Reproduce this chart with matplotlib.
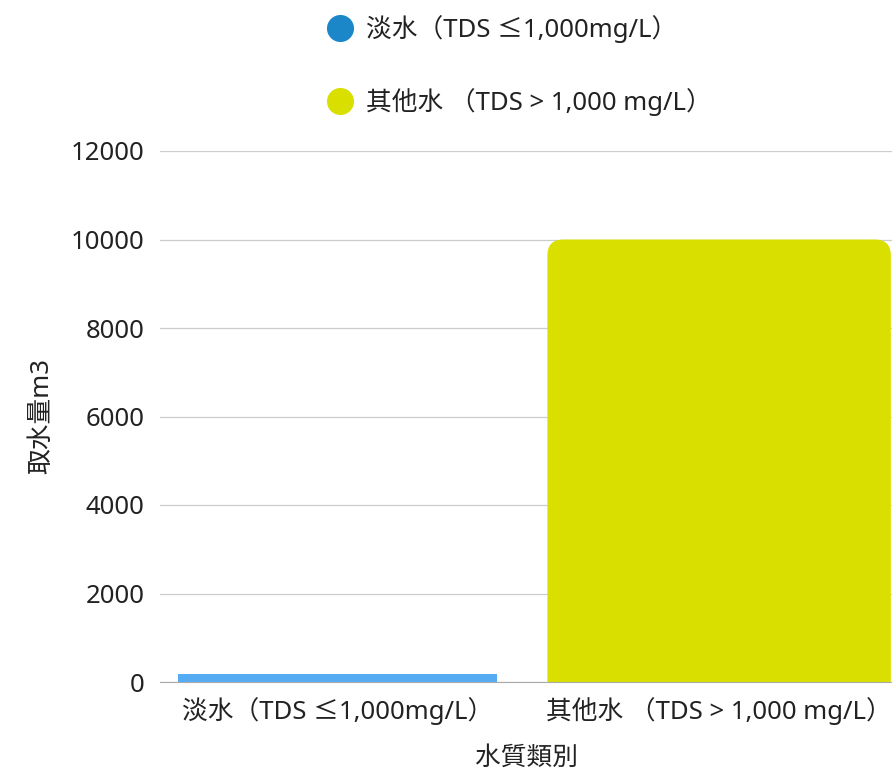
import matplotlib.pyplot as plt
from matplotlib.lines import Line2D
from matplotlib.patches import FancyBboxPatch

plt.rcParams['font.family'] = ['Noto Sans', 'Noto Sans CJK TC', 'DejaVu Sans']

categories = ["淡水（TDS ≤1,000mg/L）", "其他水 （TDS > 1,000 mg/L）"]
intake = [180, 10000]
bar_colors = ["#56acf2", "#d9e000"]
legend_colors = ["#1b87c9", "#d9e000"]
yticks = [0, 2000, 4000, 6000, 8000, 10000, 12000]

FS = 18.5
TXT = "#222222"

fig = plt.figure(figsize=(8.92, 7.72), dpi=100)
ax = fig.add_axes([160 / 892, 90 / 772, 732 / 892, 531 / 772])

x = [0, 1]
widths = [0.836, 0.90]
bars = ax.bar(x, intake, width=widths, color=bar_colors, zorder=2)

ax.set_xlim(-0.465, 1.453)
ax.set_ylim(0, 12000)

# swap the tall bar for one with rounded top corners
x_per_px = (1.453 + 0.465) / 732
y_per_px = 12000 / 531
r_px = 16
for rect, val in zip(bars, intake):
    if val / y_per_px < 3 * r_px:
        continue
    rect.set_visible(False)
    patch = FancyBboxPatch(
        (rect.get_x(), -r_px * y_per_px), rect.get_width(), val + r_px * y_per_px,
        boxstyle=f"round,pad=0,rounding_size={r_px * x_per_px}",
        mutation_aspect=y_per_px / x_per_px,
        facecolor=rect.get_facecolor(), edgecolor="none", zorder=2,
    )
    ax.add_patch(patch)

ax.set_yticks(yticks)
ax.set_xticks(x)
ax.set_xticklabels(categories)
ax.tick_params(axis="both", length=0, labelsize=FS, labelcolor=TXT)
ax.tick_params(axis="y", pad=11)
ax.tick_params(axis="x", pad=11)
ax.grid(axis="y", color="#cccccc", linewidth=0.9, zorder=0)
for side in ["top", "right", "left"]:
    ax.spines[side].set_visible(False)
ax.spines["bottom"].set_color("#aaaaaa")
ax.spines["bottom"].set_zorder(3)

ax.set_ylabel("取水量m3", fontsize=FS, color=TXT, labelpad=12)
ax.set_xlabel("水質類別", fontsize=FS, color=TXT, labelpad=15)

handles = [Line2D([], [], marker="o", linestyle="none", markersize=19.5,
                  markerfacecolor=c, markeredgecolor="none") for c in legend_colors]
fig.legend(handles, categories, loc="upper left", bbox_to_anchor=(309 / 892, 1.001),
           frameon=False, fontsize=FS, labelspacing=1.75, handlelength=1.2,
           handletextpad=0.4, borderaxespad=0.2, labelcolor=TXT)

plt.savefig("out.png", dpi=100)
plt.close()
